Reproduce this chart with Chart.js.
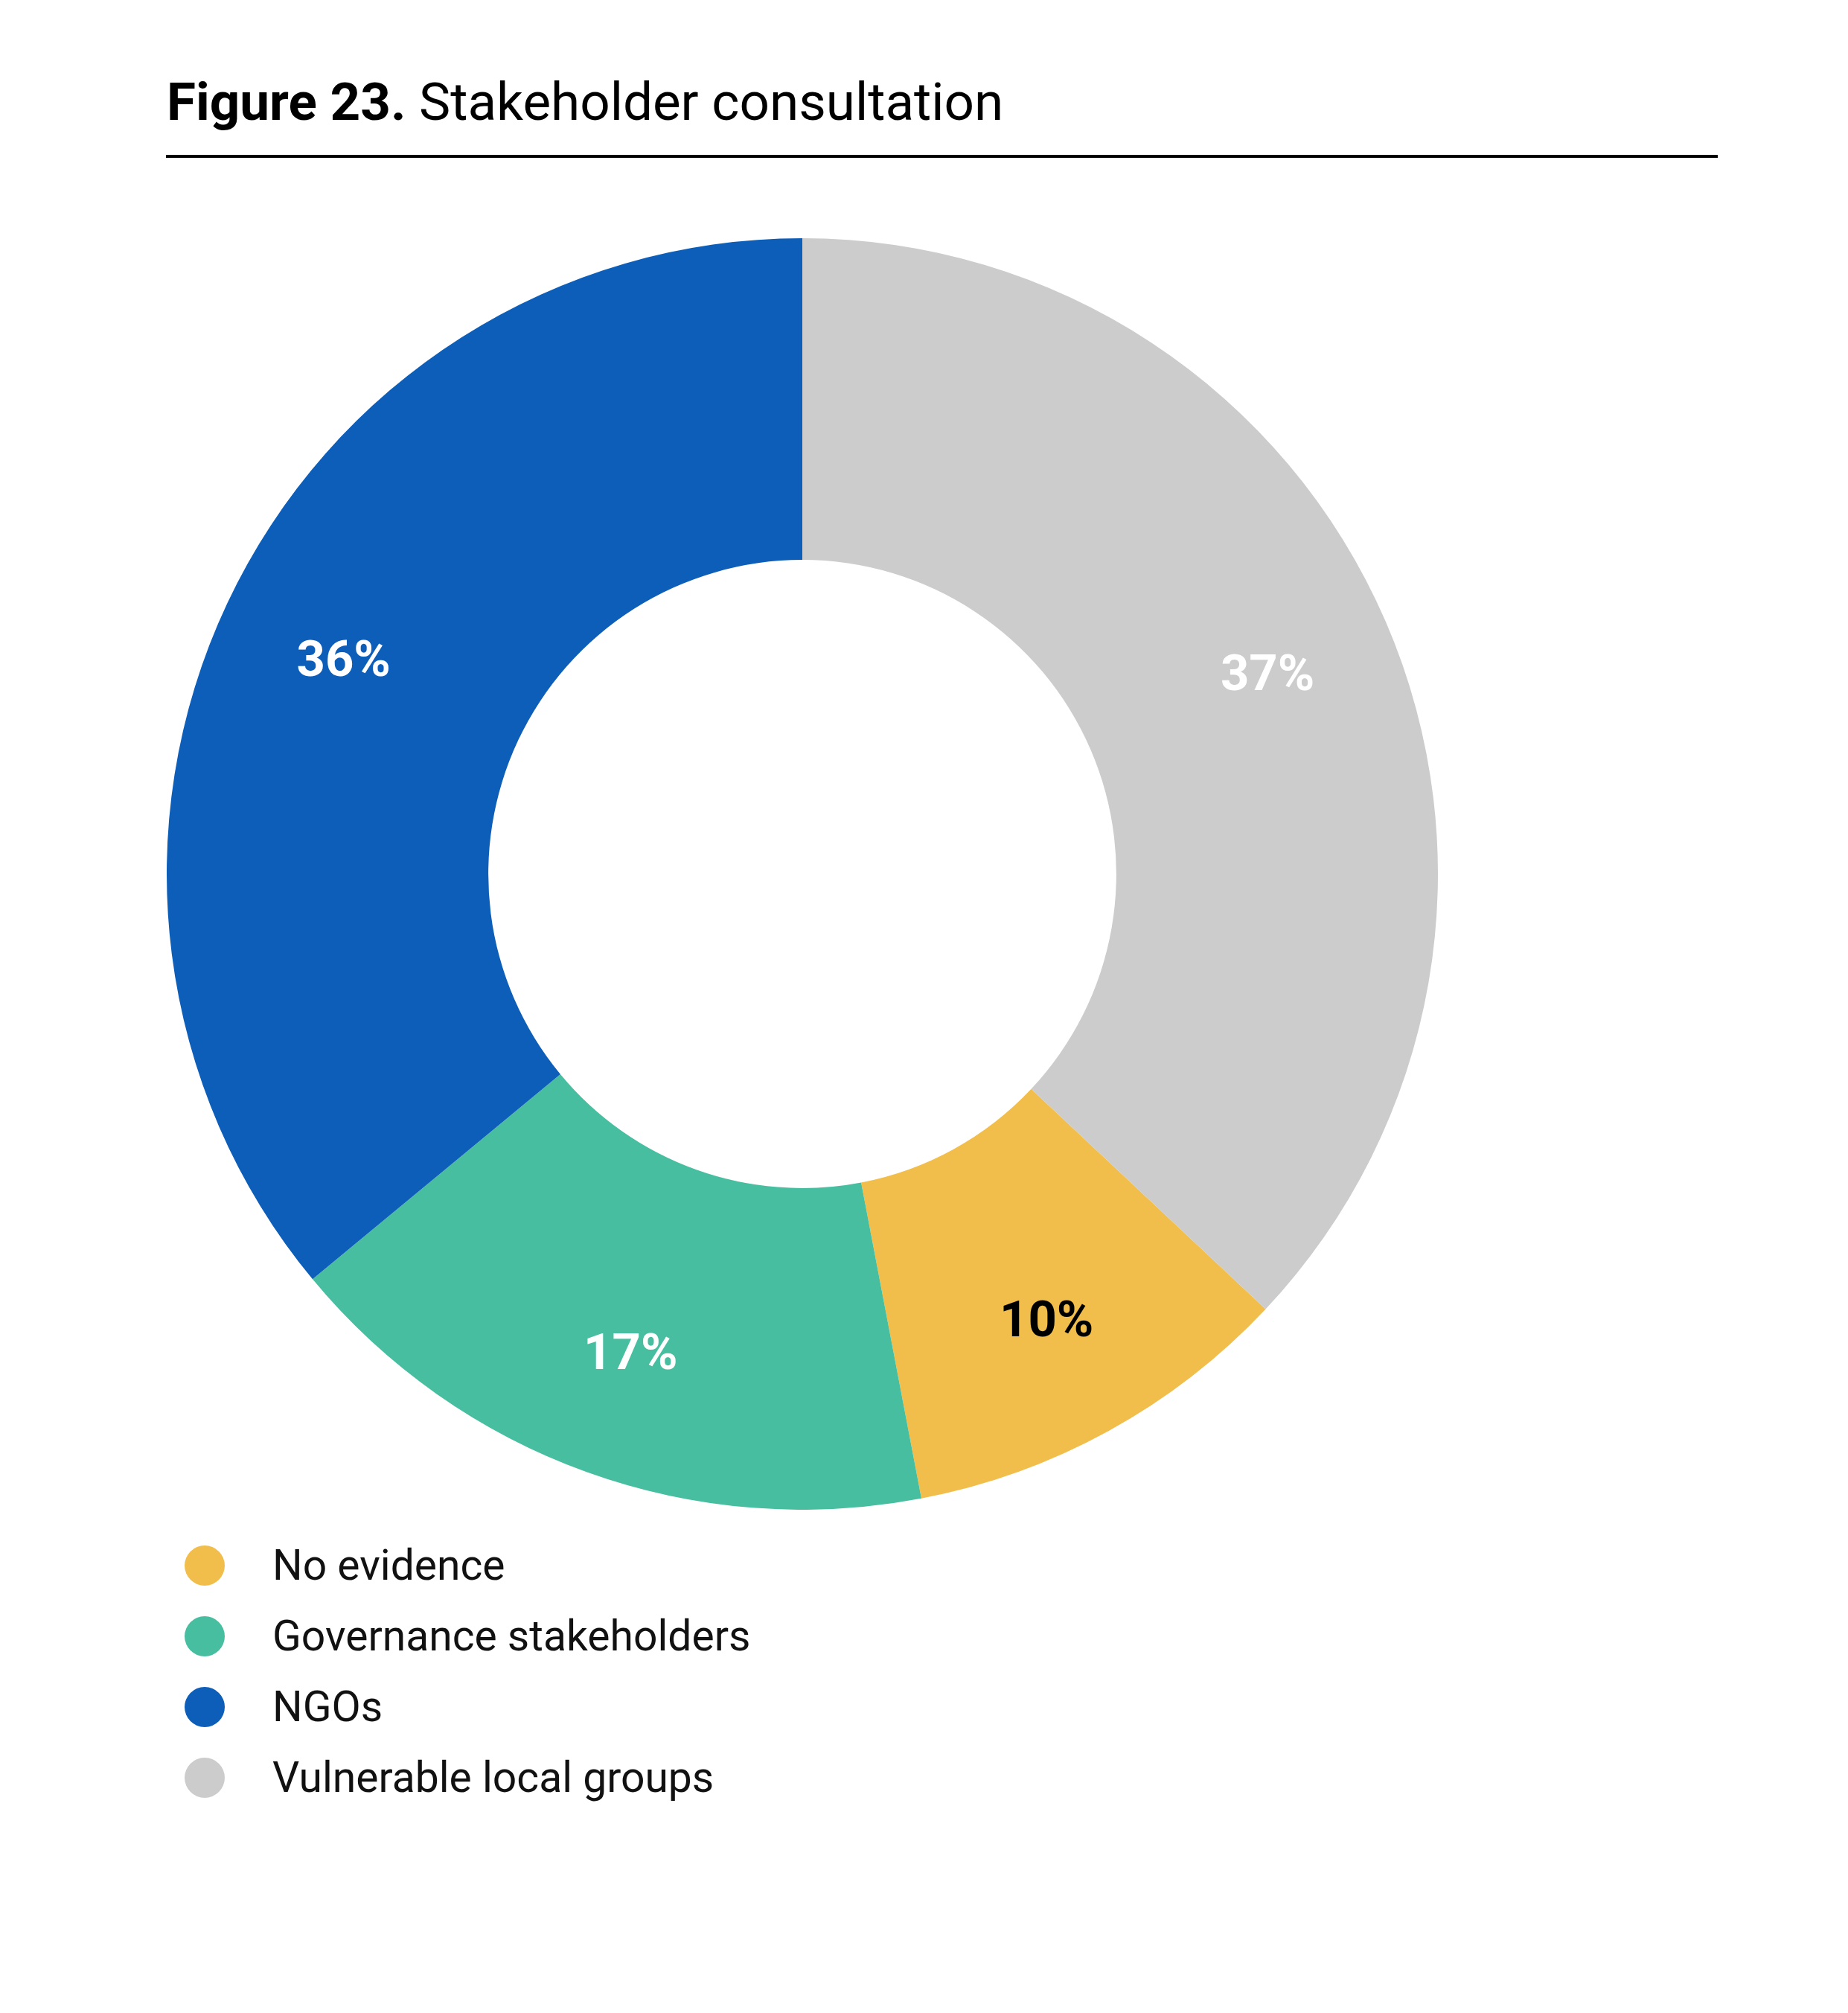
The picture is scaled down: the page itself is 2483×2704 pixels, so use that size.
<!DOCTYPE html>
<html>
<head>
<meta charset="utf-8">
<script src="https://cdn.jsdelivr.net/npm/chart.js@4.4.0/dist/chart.umd.min.js"></script>
<style>
	html, body { margin: 0; padding: 0; background: #fff; }
	body { width: 2483px; height: 2704px; position: relative; font-family: Roboto, "Noto Sans", sans-serif; color: #000; }
	#title { position: absolute; left: 224px; top: 97px; font-size: 71px; line-height: 80px; white-space: nowrap; }
	#title b { font-weight: 700; }
	#rule { position: absolute; left: 223px; top: 208px; width: 2085px; height: 4px; background: #000; }
	#chartBox { position: absolute; left: 224px; top: 320px; width: 1708px; height: 1708px; }
	#legend { position: absolute; left: 248px; top: 2055px; }
	.row { height: 95px; line-height: 95px; font-size: 57px; white-space: nowrap; color: #111; }
	.dot { display: inline-block; width: 54px; height: 54px; border-radius: 50%; vertical-align: middle; margin-right: 64px; position: relative; top: -4px; }
</style>
</head>
<body>
<div id="title"><b>Figure 23.</b> Stakeholder consultation</div>
<div id="rule"></div>
<div id="chartBox"><canvas id="myChart" width="1708" height="1708"></canvas></div>
<div id="legend"></div>

<script>
	// chart data
	var categories = ['No evidence', 'Governance stakeholders', 'NGOs', 'Vulnerable local groups'];
	var shares = [10, 17, 36, 37];
	var sliceColors = ['#f2be4b', '#48bea1', '#0d5eb8', '#cccccc'];
	var labelColors = ['#000000', '#ffffff', '#ffffff', '#ffffff'];

	// last slice ends at 12 o'clock
	var total = shares.reduce(function (a, b) { return a + b; }, 0);
	var startRotation = shares[shares.length - 1] / total * 360;

	var sliceLabels = {
		id: 'sliceLabels',
		afterDatasetsDraw: function (chart) {
			var ctx = chart.ctx;
			var meta = chart.getDatasetMeta(0);
			ctx.save();
			ctx.font = 'bold 67px Roboto';
			ctx.textAlign = 'center';
			ctx.textBaseline = 'alphabetic';
			meta.data.forEach(function (arc, i) {
				var p = arc.getProps(['x', 'y', 'startAngle', 'endAngle', 'innerRadius', 'outerRadius'], true);
				var mid = (p.startAngle + p.endAngle) / 2;
				var r = p.innerRadius + 0.6 * (p.outerRadius - p.innerRadius);
				ctx.fillStyle = labelColors[i];
				ctx.fillText(shares[i] + '%', p.x + Math.cos(mid) * r, p.y + Math.sin(mid) * r + 0.355 * 67);
			});
			ctx.restore();
		}
	};

	var ctx = document.getElementById('myChart');
	var myChart = new Chart(ctx, {
		type: 'doughnut',
		data: {
			labels: categories,
			datasets: [{
				data: shares,
				backgroundColor: sliceColors,
				borderWidth: 0
			}]
		},
		options: {
			responsive: false,
			animation: false,
			rotation: startRotation,
			cutout: '49.4%',
			layout: { padding: 0 },
			plugins: {
				legend: { display: false },
				tooltip: { enabled: false }
			}
		},
		plugins: [sliceLabels]
	});

	// legend list
	var legend = document.getElementById('legend');
	categories.forEach(function (name, i) {
		var row = document.createElement('div');
		row.className = 'row';
		var dot = document.createElement('span');
		dot.className = 'dot';
		dot.style.background = sliceColors[i];
		row.appendChild(dot);
		row.appendChild(document.createTextNode(name));
		legend.appendChild(row);
	});
</script>
</body>
</html>
